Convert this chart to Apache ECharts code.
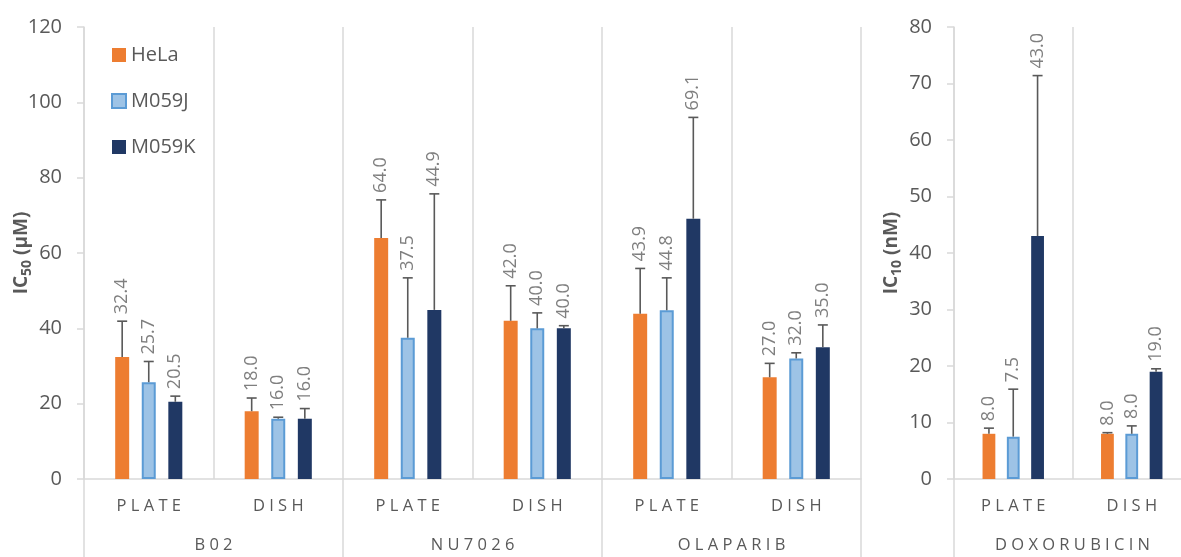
<!DOCTYPE html>
<html>
<head>
<meta charset="utf-8">
<script src="https://cdn.jsdelivr.net/npm/echarts@6/dist/echarts.min.js"></script>
<style>
html,body{margin:0;padding:0;background:#fff;overflow:hidden;}
#chart{width:1181px;height:557px;}
</style>
</head>
<body>
<div id="chart"></div>
<script>
// ---- data ----
const seriesNames = ['HeLa', 'M059J', 'M059K'];
const leftCategories = ['P L A T E', 'D I S H', 'P L A T E', 'D I S H', 'P L A T E', 'D I S H'];
const leftGroups = ['B 0 2', 'N U 7 0 2 6', 'O L A P A R I B'];
const leftHeLa  = [32.4, 18.0, 64.0, 42.0, 43.9, 27.0];
const leftM059J = [25.7, 16.0, 37.5, 40.0, 44.8, 32.0];
const leftM059K = [20.5, 16.0, 44.9, 40.0, 69.1, 35.0];
const leftHeLaErr  = [9.5, 3.5, 10.1, 9.3, 12.0, 3.7];
const leftM059JErr = [5.5, 0.4, 15.9, 4.1, 8.6, 1.5];
const leftM059KErr = [1.5, 2.7, 30.8, 0.7, 26.9, 5.9];

const rightCategories = ['P L A T E', 'D I S H'];
const rightGroups = ['D O X O R U B I C I N'];
const rightHeLa  = [8.0, 8.0];
const rightM059J = [7.5, 8.0];
const rightM059K = [43.0, 19.0];
const rightHeLaErr  = [1.0, 0.2];
const rightM059JErr = [8.4, 1.4];
const rightM059KErr = [28.4, 0.5];

const leftTicks = [0, 20, 40, 60, 80, 100, 120];
const rightTicks = [0, 10, 20, 30, 40, 50, 60, 70, 80];

// ---- styles ----
const FONT = 'Open Sans';
const TXT = '#595959';
const GRID_LINE = '#d9d9d9';
const colors = ['#ED7D31', '#9DC3E6', '#203864'];
const itemStyles = [
  {color: colors[0]},
  {color: colors[1], borderColor: '#5B9BD5', borderWidth: 2},
  {color: colors[2]}
];
const BAR_FRAC = 0.108;
const BAR_GAP = 0.9;

const chart = echarts.init(document.getElementById('chart'));

function errSeries(gridIdx, sIdx, vals, errs) {
  return {
    type: 'custom',
    xAxisIndex: gridIdx * 2,
    yAxisIndex: gridIdx,
    z: 5,
    silent: true,
    encode: {x: 0, y: 1},
    data: vals.map((v, i) => [i, v, errs[i]]),
    renderItem: function (params, api) {
      const cat = api.value(0), v = api.value(1), e = api.value(2);
      const base = api.coord([cat, v]);
      const top = api.coord([cat, v + e]);
      const bw = api.size([1, 0])[0];
      const off = (sIdx - 1) * bw * BAR_FRAC * (1 + BAR_GAP);
      const x = base[0] + off;
      const ls = {stroke: '#595959', lineWidth: 1.6};
      return {
        type: 'group',
        children: [
          {type: 'line', shape: {x1: x, y1: base[1], x2: x, y2: top[1]}, style: ls},
          {type: 'line', shape: {x1: x - 5, y1: top[1], x2: x + 5, y2: top[1]}, style: ls},
          {type: 'text', x: x, y: top[1] - 7, rotation: Math.PI / 2,
            style: {text: v.toFixed(1), fill: '#7f7f7f', fontSize: 18, fontFamily: FONT,
              align: 'left', verticalAlign: 'middle'}}
        ]
      };
    }
  };
}

function barSeries(gridIdx, sIdx, vals) {
  return {
    name: seriesNames[sIdx],
    type: 'bar',
    xAxisIndex: gridIdx * 2,
    yAxisIndex: gridIdx,
    barWidth: (BAR_FRAC * 100) + '%',
    barGap: (BAR_GAP * 100) + '%',
    itemStyle: itemStyles[sIdx],
    data: vals
  };
}

function yName(sub, unit) {
  return '{b|IC}{s|' + sub + '}{b| (' + unit + ')}';
}
const nameRich = {
  b: {fontSize: 19, fontWeight: 'bold', fontFamily: FONT, color: TXT, lineHeight: 24},
  s: {fontSize: 14, fontWeight: 'bold', fontFamily: FONT, color: TXT, lineHeight: 16, verticalAlign: 'bottom'}
};

function yAxis(gridIdx, max, interval, sub, unit) {
  return {
    type: 'value', gridIndex: gridIdx, min: 0, max: max, interval: interval,
    axisLine: {show: true, lineStyle: {color: GRID_LINE, width: 1.5}},
    axisTick: {show: true, inside: false, length: 7, lineStyle: {color: GRID_LINE, width: 1.5}},
    splitLine: {show: false},
    axisLabel: {color: TXT, fontSize: 20, fontFamily: FONT, margin: 22},
    name: yName(sub, unit),
    nameLocation: 'middle',
    nameRotate: 90,
    nameGap: 50,
    nameMoveOverlap: false,
    nameTextStyle: {rich: nameRich}
  };
}

function xAxes(gridIdx, cats, groups) {
  return [
    {
      type: 'category', gridIndex: gridIdx, data: cats, position: 'bottom',
      axisLine: {show: true, lineStyle: {color: GRID_LINE, width: 1.5}},
      axisTick: {show: false},
      splitLine: {show: true, interval: 0, lineStyle: {color: GRID_LINE, width: 1.5}},
      axisLabel: {interval: 0, color: TXT, fontSize: 16.5, fontFamily: FONT, margin: 19}
    },
    {
      type: 'category', gridIndex: gridIdx, data: groups, position: 'bottom',
      axisLine: {show: false},
      axisTick: {show: true, interval: 0, length: 80, lineStyle: {color: GRID_LINE, width: 1.5}},
      splitLine: {show: false},
      axisLabel: {interval: 0, color: TXT, fontSize: 16.5, fontFamily: FONT, margin: 58}
    }
  ];
}

const option = {
  animation: false,
  backgroundColor: '#fff',
  textStyle: {fontFamily: FONT},
  legend: {
    data: seriesNames,
    orient: 'vertical',
    left: 106,
    top: 40,
    itemWidth: 14,
    itemHeight: 14,
    itemGap: 26,
    icon: 'rect',
    textStyle: {color: TXT, fontSize: 20, fontFamily: FONT}
  },
  grid: [
    {left: 84, right: 320, top: 27, bottom: 78, outerBoundsMode: 'none', containLabel: false},
    {left: 954, right: -10, top: 27, bottom: 78, outerBoundsMode: 'none', containLabel: false}
  ],
  xAxis: xAxes(0, leftCategories, leftGroups).concat(xAxes(1, rightCategories, rightGroups)),
  yAxis: [
    yAxis(0, 120, 20, '50', 'µM'),
    yAxis(1, 80, 10, '10', 'nM')
  ],
  series: [
    barSeries(0, 0, leftHeLa), barSeries(0, 1, leftM059J), barSeries(0, 2, leftM059K),
    barSeries(1, 0, rightHeLa), barSeries(1, 1, rightM059J), barSeries(1, 2, rightM059K),
    errSeries(0, 0, leftHeLa, leftHeLaErr), errSeries(0, 1, leftM059J, leftM059JErr), errSeries(0, 2, leftM059K, leftM059KErr),
    errSeries(1, 0, rightHeLa, rightHeLaErr), errSeries(1, 1, rightM059J, rightM059JErr), errSeries(1, 2, rightM059K, rightM059KErr)
  ]
};
chart.setOption(option);
</script>
</body>
</html>
